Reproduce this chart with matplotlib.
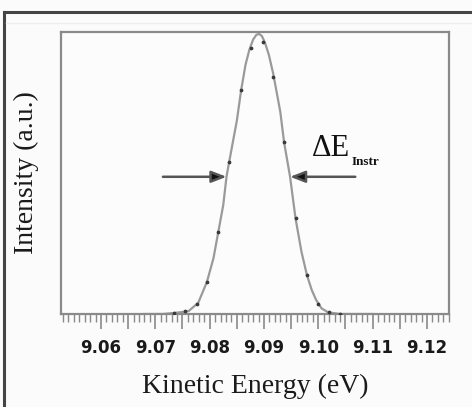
import matplotlib
matplotlib.use("Agg")
import matplotlib.pyplot as plt
from matplotlib.ticker import MultipleLocator, FixedLocator, FixedFormatter
from matplotlib.lines import Line2D

# ---- data ----
fit_energy = [9.0680, 9.0714, 9.0736, 9.0761, 9.0779, 9.0795, 9.0807, 9.0816,
              9.0825, 9.0831, 9.0836, 9.0850, 9.0858, 9.0866, 9.0873, 9.0880,
              9.0886, 9.0891, 9.0896, 9.0902, 9.0909, 9.0917, 9.0930, 9.0937,
              9.0948, 9.0958, 9.0969, 9.0979, 9.0988, 9.0996, 9.1006, 9.1018,
              9.1040, 9.1100]
fit_intensity = [0.0, 0.0, 0.004, 0.010, 0.040, 0.115, 0.199, 0.294,
                 0.389, 0.490, 0.544, 0.690, 0.800, 0.890, 0.943, 0.980,
                 0.997, 1.000, 0.993, 0.968, 0.925, 0.858, 0.722, 0.613,
                 0.490, 0.342, 0.222, 0.139, 0.085, 0.050, 0.020, 0.006,
                 0.0, 0.0]

data_energy = [9.0734, 9.0755, 9.0777, 9.0795, 9.0816, 9.0836, 9.0858, 9.0877,
               9.0899, 9.0917, 9.0937, 9.0958, 9.0979, 9.0999, 9.1020, 9.1040]
data_intensity = [0.004, 0.011, 0.036, 0.115, 0.294, 0.544, 0.800, 0.951,
                  0.970, 0.848, 0.613, 0.342, 0.139, 0.036, 0.006, 0.0]

tick_values = [9.06, 9.065, 9.07, 9.075, 9.08, 9.085, 9.09, 9.095, 9.10,
               9.105, 9.11, 9.115, 9.12]
tick_labels = ["9.06", "", "9.07", "", "9.08", "", "9.09", "", "9.10",
               "", "9.11", "", "9.12"]

half_max = 0.49
left_edge, right_edge = 9.0831, 9.0948

# ---- figure ----
W, H = 472, 407
fig = plt.figure(figsize=(W / 100, H / 100), dpi=100)
fig.patch.set_facecolor("#fbfbfb")

ax = fig.add_axes([61 / W, 1 - 314 / H, (449 - 61) / W, (314 - 32) / H])
ax.set_facecolor("#fcfcfc")

ax.plot(fit_energy, fit_intensity, color="#9a9a9a", lw=1.6, zorder=2)
ax.plot(data_energy, data_intensity, ls="none", marker="o", ms=1.7,
        color="#3a3a3a", zorder=3)

ax.set_xlim(9.05264, 9.12405)
ax.set_ylim(0, 1.007)

for s in ax.spines.values():
    s.set_color("#8a8a8a")
    s.set_linewidth(1.6)

ax.xaxis.set_major_locator(FixedLocator(tick_values))
ax.xaxis.set_major_formatter(FixedFormatter(tick_labels))
ax.xaxis.set_minor_locator(MultipleLocator(0.001))
ax.tick_params(axis="x", which="major", direction="out", length=11, width=1.2,
               color="#8a8a8a", pad=7, labelsize=12)
ax.tick_params(axis="x", which="minor", direction="out", length=6, width=1.0,
               color="#8a8a8a")
for lab in ax.get_xticklabels():
    lab.set_fontweight("bold")
    lab.set_color("#1a1a1a")
ax.set_yticks([])

ax.set_xlabel("Kinetic Energy (eV)", family="Liberation Serif", fontsize=20,
              color="#1a1a1a", labelpad=12)
ax.set_ylabel("Intensity (a.u.)", family="Liberation Serif", fontsize=20,
              color="#1a1a1a", labelpad=16)

# FWHM arrows
arrow_kw = dict(arrowstyle="-|>,head_length=0.9,head_width=0.35",
                color="#555555", lw=1.8, shrinkA=0, shrinkB=0)
ax.annotate("", xy=(left_edge, half_max), xytext=(9.0714, half_max),
            arrowprops=dict(**arrow_kw, fc="#111111"))
ax.annotate("", xy=(right_edge, half_max), xytext=(9.1068, half_max),
            arrowprops=dict(**arrow_kw, fc="#111111"))

fig.text(312 / W, 1 - 156 / H, "\u0394E", family="Liberation Serif",
         fontsize=22, color="#111111", ha="left", va="baseline")
fig.text(352 / W, 1 - 165 / H, "Instr", family="Liberation Serif",
         fontsize=9.5, fontweight="bold", color="#111111", ha="left", va="baseline")

# outer frame
fig.add_artist(Line2D([4 / W, 1], [1 - 12 / H, 1 - 12 / H], color="#444444",
                      lw=2.2, transform=fig.transFigure))
fig.add_artist(Line2D([4 / W, 4 / W], [0, 1 - 12 / H], color="#444444",
                      lw=2.2, transform=fig.transFigure))
fig.add_artist(Line2D([6 / W, 1], [1 - 23 / H, 1 - 23 / H], color="#eeeeee",
                      lw=1.0, transform=fig.transFigure))

fig.savefig("out.png", dpi=100)
